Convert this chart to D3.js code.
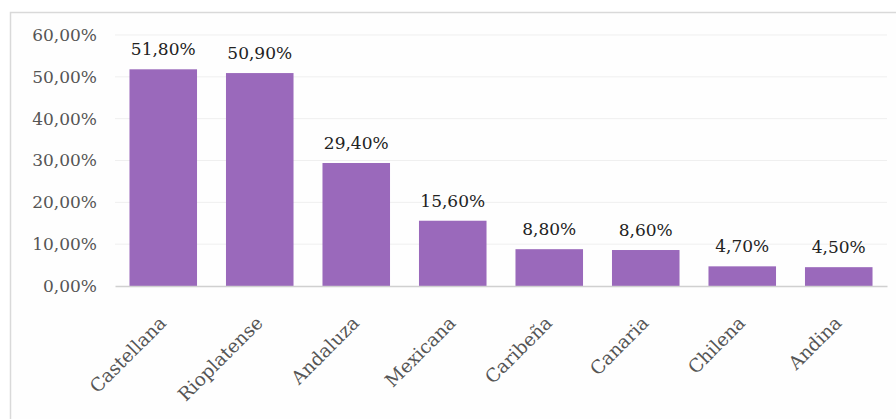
<html>
<head>
<meta charset="utf-8">
<script src="https://d3js.org/d3.v7.min.js"></script>
<style>
  body { margin: 0; background: #fff; }
  text { font-family: "DejaVu Serif", serif; }
</style>
</head>
<body>
<div id="chart"></div>
<script>
const categories = ["Castellana", "Rioplatense", "Andaluza", "Mexicana", "Caribeña", "Canaria", "Chilena", "Andina"];
const values = [51.8, 50.9, 29.4, 15.6, 8.8, 8.6, 4.7, 4.5];
const yTicks = [0, 10, 20, 30, 40, 50, 60];

const W = 896, H = 419;
const margin = {top: 35, right: 9, bottom: 133, left: 115};
const width = W - margin.left - margin.right,
      height = H - margin.top - margin.bottom;

const fmt = v => v.toFixed(2).replace(".", ",") + "%";

const svg = d3.select("#chart").append("svg")
    .attr("width", W)
    .attr("height", H);

// chart frame
svg.append("rect")
    .attr("x", 10.5).attr("y", 12.5)
    .attr("width", W).attr("height", H)
    .attr("fill", "#fefefe")
    .attr("stroke", "#d9d9d9")
    .attr("stroke-width", 1.5);

const g = svg.append("g")
    .attr("transform", "translate(" + margin.left + "," + margin.top + ")");

const x = d3.scaleBand()
    .domain(categories)
    .range([0, width])
    .paddingInner(0.3)
    .paddingOuter(0.15);

const y = d3.scaleLinear()
    .domain([0, 60])
    .range([height, 0]);

// grid
g.append("g")
  .selectAll("line")
  .data(yTicks.slice(1))
  .enter().append("line")
    .attr("x1", 0).attr("x2", width)
    .attr("y1", d => y(d)).attr("y2", d => y(d))
    .attr("stroke", "#efefef");

// y axis
const yAxis = g.append("g")
    .call(d3.axisLeft(y).tickValues(yTicks).tickFormat(fmt).tickSize(0).tickPadding(18));
yAxis.select(".domain").remove();
yAxis.selectAll("text")
    .attr("fill", "#555")
    .style("font-size", "17px");

// bars
g.append("g")
  .selectAll("rect")
  .data(values)
  .enter().append("rect")
    .attr("x", (d, i) => x(categories[i]))
    .attr("y", d => y(d))
    .attr("width", x.bandwidth())
    .attr("height", d => y(0) - y(d))
    .attr("fill", "#9a69bb");

// value labels
g.append("g")
  .selectAll("text")
  .data(values)
  .enter().append("text")
    .attr("x", (d, i) => x(categories[i]) + x.bandwidth() / 2)
    .attr("y", d => y(d) - 14)
    .attr("text-anchor", "middle")
    .attr("fill", "#222")
    .style("font-size", "17px")
    .text(fmt);

// x axis
const xAxis = g.append("g")
    .attr("transform", "translate(0," + height + ")")
    .call(d3.axisBottom(x).tickSize(0).tickSizeOuter(0));
xAxis.select(".domain")
    .attr("stroke", "#d0d0d0")
    .attr("stroke-width", 1.5);
xAxis.selectAll("text")
    .attr("fill", "#555")
    .style("font-size", "18.5px")
    .attr("text-anchor", "end")
    .attr("transform", "translate(-5,29) rotate(-45)")
    .attr("x", 0)
    .attr("y", 0)
    .attr("dy", "0.7em");
</script>
</body>
</html>
